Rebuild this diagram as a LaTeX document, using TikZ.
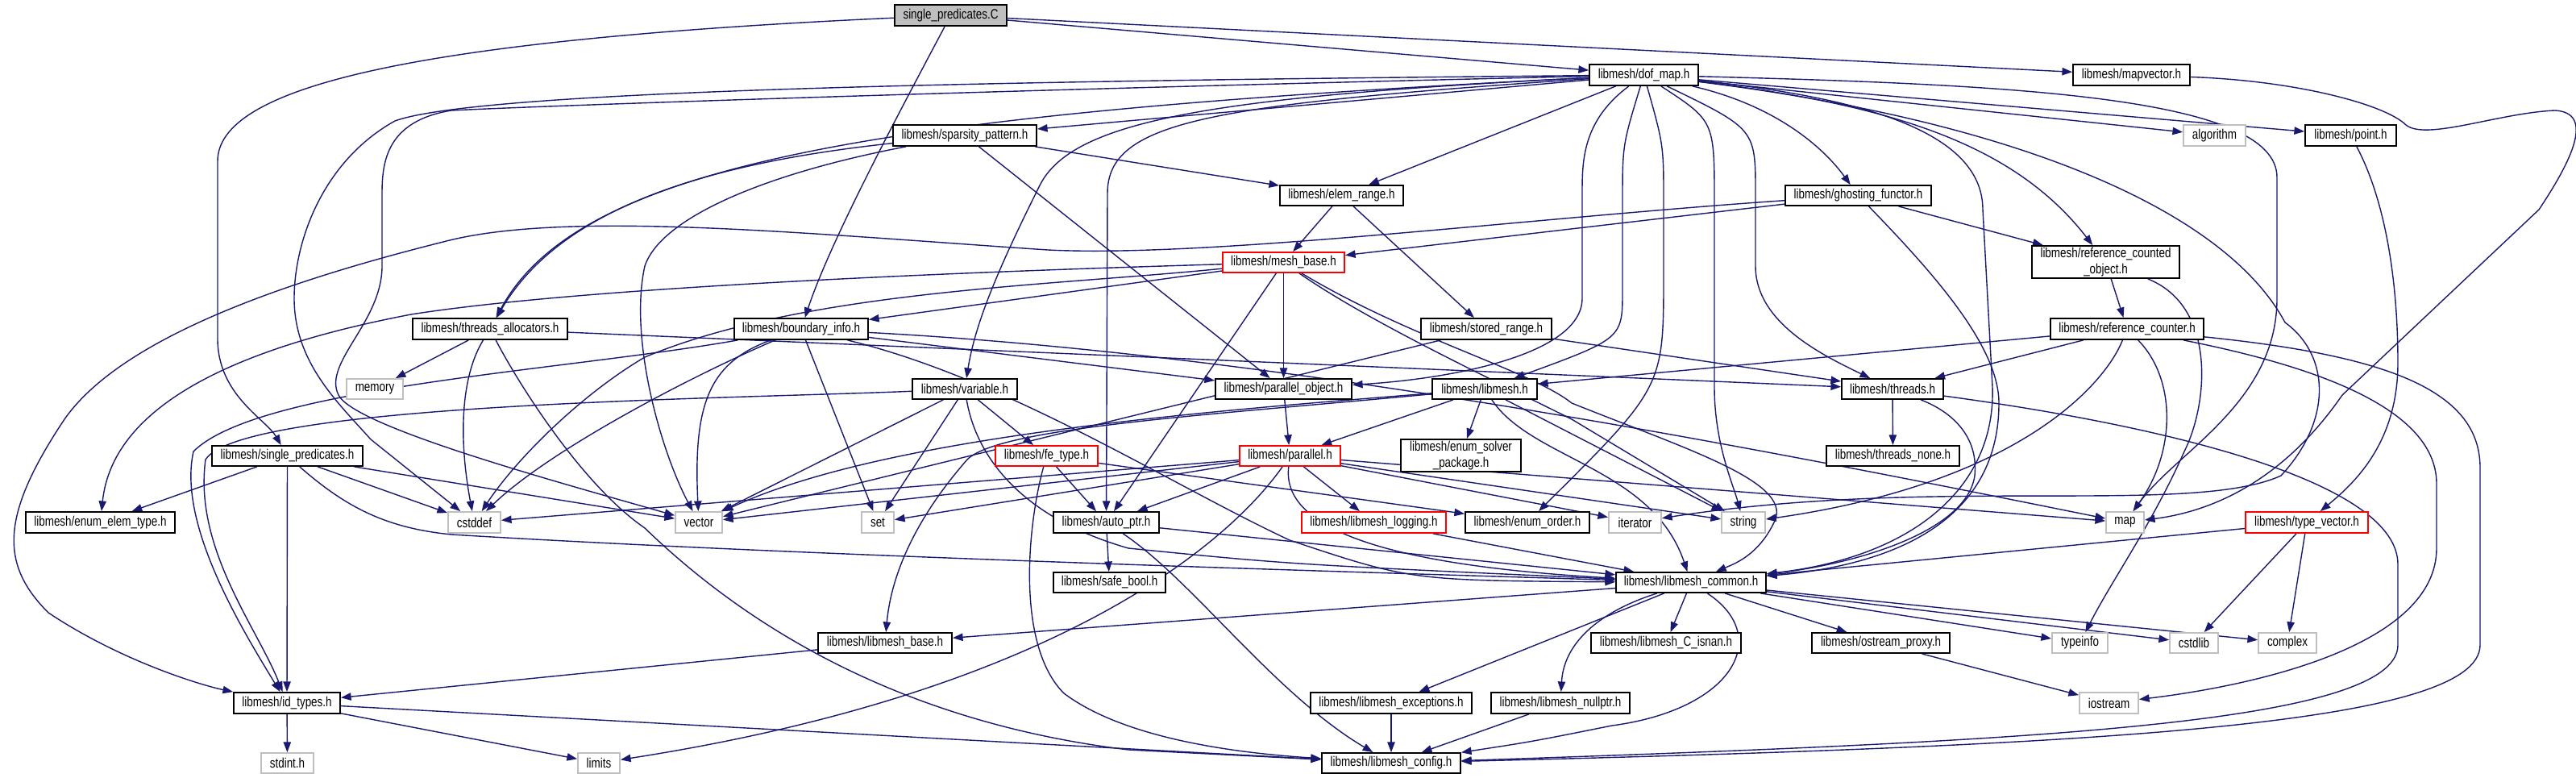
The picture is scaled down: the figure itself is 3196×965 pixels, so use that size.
\documentclass[tikz,border=0pt]{standalone}
\usepackage{fontspec}
\setmainfont{Liberation Sans}[FakeStretch=0.79]
\usetikzlibrary{arrows.meta}
\definecolor{eblue}{HTML}{191970}
\definecolor{gbord}{HTML}{BFBFBF}
\pgfdeclarelayer{bg}
\pgfsetlayers{bg,main}
\newcommand\mknode[7]{\node[#6,minimum width={(#4-#2)*0.3pt},minimum height={(#5-#3)*0.3pt}] (#1) at ({(#2+#4)/2},{(#3+#5)/2}) {#7};}
\tikzset{
  box/.style={draw=black,fill=white,line width=0.55pt,inner sep=0pt,font=\fontsize{5.1pt}{5.9pt}\selectfont,align=center},
  gbox/.style={box,draw=gbord},
  rbox/.style={box,draw=red},
  rootbox/.style={box,fill=gbord},
  e/.style={draw=eblue,line width=0.42pt,-{Triangle[length=3.8pt,width=2.8pt]}}
}
\begin{document}
\begin{tikzpicture}[x=0.3pt,y=-0.3pt]
\useasboundingbox (0,0) rectangle (3196,965);
\mknode{C}{1110}{6}{1249}{32}{rootbox}{single\_predicates.C}
\mknode{dof}{1972}{80}{2107}{106}{box}{libmesh/dof\_map.h}
\mknode{mapv}{2572}{80}{2717}{106}{box}{libmesh/mapvector.h}
\mknode{sp}{1108}{155}{1286}{181}{box}{libmesh/sparsity\_pattern.h}
\mknode{alg}{2709}{155}{2786}{181}{gbox}{algorithm}
\mknode{pt}{2860}{155}{2973}{181}{box}{libmesh/point.h}
\mknode{er}{1588}{230}{1741}{255}{box}{libmesh/elem\_range.h}
\mknode{gf}{2215}{230}{2396}{255}{box}{libmesh/ghosting\_functor.h}
\mknode{mb}{1517}{313}{1668}{338}{rbox}{libmesh/mesh\_base.h}
\mknode{rco}{2521}{305}{2704}{345}{box}{libmesh/reference\_counted\\\_object.h}
\mknode{ta}{512}{395}{704}{421}{box}{libmesh/threads\_allocators.h}
\mknode{bi}{911}{395}{1077}{421}{box}{libmesh/boundary\_info.h}
\mknode{sr}{1763}{395}{1925}{421}{box}{libmesh/stored\_range.h}
\mknode{rc}{2544}{395}{2734}{421}{box}{libmesh/reference\_counter.h}
\mknode{mem}{430}{470}{500}{495}{gbox}{memory}
\mknode{var}{1132}{470}{1262}{495}{box}{libmesh/variable.h}
\mknode{po}{1508}{470}{1677}{495}{box}{libmesh/parallel\_object.h}
\mknode{lm}{1777}{470}{1907}{495}{box}{libmesh/libmesh.h}
\mknode{th}{2285}{470}{2411}{495}{box}{libmesh/threads.h}
\mknode{sph}{263}{553}{450}{578}{box}{libmesh/single\_predicates.h}
\mknode{fe}{1235}{553}{1362}{578}{rbox}{libmesh/fe\_type.h}
\mknode{par}{1538}{553}{1663}{578}{rbox}{libmesh/parallel.h}
\mknode{esp}{1738}{545}{1887}{585}{box}{libmesh/enum\_solver\\\_package.h}
\mknode{thn}{2266}{553}{2431}{578}{box}{libmesh/threads\_none.h}
\mknode{eet}{32}{635}{217}{661}{box}{libmesh/enum\_elem\_type.h}
\mknode{cst}{556}{635}{621}{661}{gbox}{cstddef}
\mknode{vec}{838}{635}{896}{661}{gbox}{vector}
\mknode{set}{1069}{635}{1109}{661}{gbox}{set}
\mknode{ap}{1307}{635}{1438}{661}{box}{libmesh/auto\_ptr.h}
\mknode{log}{1615}{635}{1794}{661}{rbox}{libmesh/libmesh\_logging.h}
\mknode{eo}{1818}{635}{1972}{661}{box}{libmesh/enum\_order.h}
\mknode{it}{1996}{635}{2061}{661}{gbox}{iterator}
\mknode{str}{2136}{635}{2190}{661}{gbox}{string}
\mknode{map}{2613}{635}{2660}{661}{gbox}{map}
\mknode{tv}{2786}{635}{2938}{661}{rbox}{libmesh/type\_vector.h}
\mknode{sb}{1307}{710}{1446}{735}{box}{libmesh/safe\_bool.h}
\mknode{com}{2005}{710}{2191}{735}{box}{libmesh/libmesh\_common.h}
\mknode{lb}{1015}{785}{1181}{810}{box}{libmesh/libmesh\_base.h}
\mknode{isn}{1974}{785}{2160}{810}{box}{libmesh/libmesh\_C\_isnan.h}
\mknode{op}{2248}{785}{2419}{810}{box}{libmesh/ostream\_proxy.h}
\mknode{ti}{2546}{785}{2615}{810}{gbox}{typeinfo}
\mknode{cstl}{2692}{785}{2752}{810}{gbox}{cstdlib}
\mknode{cx}{2802}{785}{2874}{810}{gbox}{complex}
\mknode{id}{290}{859}{422}{885}{box}{libmesh/id\_types.h}
\mknode{exc}{1626}{859}{1826}{885}{box}{libmesh/libmesh\_exceptions.h}
\mknode{np}{1850}{859}{2022}{885}{box}{libmesh/libmesh\_nullptr.h}
\mknode{ios}{2580}{859}{2653}{885}{gbox}{iostream}
\mknode{std}{324}{934}{389}{959}{gbox}{stdint.h}
\mknode{lim}{717}{934}{769}{959}{gbox}{limits}
\mknode{cfg}{1640}{934}{1812}{959}{box}{libmesh/libmesh\_config.h}
\begin{pgfonlayer}{bg}
% single_predicates.C
\draw[e] (C) .. controls (500,50) and (270,110) .. (270,200) -- (270,420) .. controls (270,490) and (330,520) .. (sph);
\draw[e] (C) .. controls (1110,150) and (1030,300) .. (bi);
\draw[e] (C) -- (dof);
\draw[e] (C) -- (mapv);
% mapvector
\draw[e] (mapv) .. controls (2850,100) and (2960,130) .. (2985,155) .. controls (3010,175) and (3100,140) .. (3170,137) .. controls (3220,140) and (3190,200) .. (3150,260) -- (2906,490) .. controls (2830,600) and (2740,635) .. (map);
% dof_map
\draw[e] (dof) -- (sp);
\draw[e] (dof) .. controls (1100,140) and (720,200) .. (ta);
\draw[e] (dof) -- (er);
\draw[e] (dof) .. controls (2200,130) and (2260,180) .. (gf);
\draw[e] (dof) -- (alg);
\draw[e] (dof) -- (pt);
\draw[e] (dof) .. controls (2350,130) and (2500,180) .. (rco);
\draw[e] (dof) .. controls (1500,120) and (1330,150) .. (1290,230) .. controls (1240,330) and (1210,400) .. (var);
\draw[e] (dof) .. controls (1963,150) and (1963,200) .. (1963,240) -- (1963,370) .. controls (1963,440) and (1800,470) .. (po);
\draw[e] (dof) .. controls (2013,180) .. (2013,250) -- (2013,360) .. controls (2013,420) .. (lm);
\draw[e] (dof) .. controls (2064,180) .. (2064,250) -- (2064,340) .. controls (2064,480) .. (eo);
\draw[e] (dof) .. controls (2127,150) .. (2127,250) -- (2127,480) .. controls (2127,550) and (2150,600) .. (str);
\draw[e] (dof) .. controls (2178,160) .. (2178,240) -- (2178,330) .. controls (2178,400) and (2260,440) .. (th);
\draw[e] (dof) .. controls (1500,130) and (1374,150) .. (1374,240) -- (ap);
\draw[e] (dof) .. controls (2500,105) and (2825,120) .. (2825,220) -- (2825,370) .. controls (2825,500) and (2700,560) .. (map);
\draw[e] (dof) .. controls (2300,120) and (2460,160) .. (2460,260) -- (2472,480) .. controls (2476,600) and (2380,690) .. (com);
\draw[e] (dof) .. controls (2500,150) and (2760,260) .. (2835,400) .. controls (2890,440) and (2895,520) .. (2830,590) .. controls (2720,640) and (2400,590) .. (it);
\draw[e] (dof) .. controls (1300,110) and (700,130) .. (560,137) .. controls (480,150) and (474,200) .. (474,240) -- (474,330) .. controls (474,400) and (400,450) .. (420,490) .. controls (440,530) and (700,600) .. (vec);
\draw[e] (dof) .. controls (1300,100) and (600,110) .. (490,150) .. controls (400,200) and (365,300) .. (365,370) .. controls (365,450) and (420,500) .. (460,545) -- (cst);
% sparsity_pattern
\draw[e] (sp) .. controls (900,200) and (700,250) .. (ta);
\draw[e] (sp) -- (er);
\draw[e] (sp) -- (po);
\draw[e] (sp) .. controls (950,215) and (820,270) .. (800,330) .. controls (780,420) and (820,560) .. (vec);
% elem_range
\draw[e] (er) -- (mb);
\draw[e] (er) -- (sr);
% ghosting_functor
\draw[e] (gf) -- (mb);
\draw[e] (gf) -- (rco);
\draw[e] (gf) .. controls (2400,340) and (2480,430) .. (2480,500) .. controls (2480,640) and (2360,700) .. (com);
\draw[e] (gf) .. controls (1900,270) and (1500,320) .. (1300,310) .. controls (1000,290) and (700,260) .. (550,300) .. controls (350,350) and (150,420) .. (80,520) .. controls (0,640) and (0,700) .. (60,760) .. controls (150,820) and (250,850) .. (id);
% threads_allocators
\draw[e] (ta) -- (mem);
\draw[e] (ta) .. controls (570,470) and (570,550) .. (cst);
\draw[e] (ta) .. controls (640,470) and (720,600) .. (800,655) .. controls (950,800) and (1150,900) .. (1400,930) -- (cfg);
\draw[e] (ta) -- (th);
% mesh_base
\draw[e] (mb) .. controls (1100,340) and (700,360) .. (510,390) .. controls (300,430) and (140,500) .. (eet);
\draw[e] (mb) -- (bi);
\draw[e] (mb) -- (po);
\draw[e] (mb) -- (ap);
\draw[e] (mb) .. controls (1300,355) and (1000,360) .. (800,443) .. controls (720,490) and (640,570) .. (cst);
\draw[e] (mb) .. controls (1700,400) and (1850,470) .. (1950,520) -- (str);
\draw[e] (mb) .. controls (1750,420) and (1900,460) .. (1950,500) .. controls (2100,560) and (2230,600) .. (2200,650) .. controls (2180,690) and (2150,700) .. (com);
% boundary_info
\draw[e] (bi) -- (po);
\draw[e] (bi) .. controls (880,450) and (860,500) .. (vec);
\draw[e] (bi) -- (set);
\draw[e] (bi) .. controls (850,470) and (680,560) .. (cst);
\draw[e] (bi) .. controls (700,460) and (320,480) .. (240,560) .. controls (220,650) and (300,780) .. (id);
\draw[e] (bi) .. controls (1250,470) and (1450,600) .. (1600,670) .. controls (1750,720) .. (com);
\draw[e] (bi) .. controls (1600,440) and (2200,560) .. (map);
% reference counted / counter
\draw[e] (rco) -- (rc);
\draw[e] (rco) .. controls (2750,380) and (2740,500) .. (2710,560) .. controls (2670,650) and (2620,720) .. (ti);
\draw[e] (rc) -- (lm);
\draw[e] (rc) -- (th);
\draw[e] (rc) .. controls (2610,480) and (2500,600) .. (str);
\draw[e] (rc) .. controls (2700,470) and (2700,560) .. (map);
\draw[e] (rc) .. controls (2850,450) and (3023,500) .. (3023,600) -- (3023,680) .. controls (3023,800) and (2800,850) .. (ios);
\draw[e] (rc) .. controls (2950,440) and (3077,480) .. (3077,580) -- (3077,800) .. controls (3077,900) and (2600,925) .. (cfg);
% stored_range
\draw[e] (sr) -- (th);
\draw[e] (sr) -- (vec);
% variable
\draw[e] (var) -- (fe);
\draw[e] (var) -- (vec);
\draw[e] (var) -- (set);
\draw[e] (var) .. controls (1210,560) and (1260,640) .. (1400,680) .. controls (1600,700) .. (com);
\draw[e] (var) .. controls (900,495) and (300,500) .. (255,570) .. controls (240,680) and (320,780) .. (id);
% parallel_object, libmesh
\draw[e] (po) -- (par);
\draw[e] (lm) -- (par);
\draw[e] (lm) -- (esp);
\draw[e] (lm) .. controls (1900,570) and (2050,580) .. (com);
\draw[e] (lm) -- (str);
\draw[e] (lm) .. controls (1500,510) and (1100,540) .. (vec);
\draw[e] (lm) .. controls (1500,515) and (1240,530) .. (1200,570) .. controls (1130,650) and (1105,720) .. (lb);
% threads
\draw[e] (th) -- (thn);
\draw[e] (th) .. controls (2420,510) and (2455,540) .. (2450,590) .. controls (2440,660) and (2300,700) .. (com);
\draw[e] (th) .. controls (2700,530) and (2975,600) .. (2975,700) -- (2975,800) .. controls (2975,900) and (2500,920) .. (cfg);
% fe_type
\draw[e] (fe) -- (ap);
\draw[e] (fe) -- (eo);
\draw[e] (fe) .. controls (1275,650) and (1260,800) .. (1320,860) .. controls (1400,920) and (1550,935) .. (cfg);
% parallel
\draw[e] (par) -- (cst);
\draw[e] (par) -- (vec);
\draw[e] (par) -- (set);
\draw[e] (par) -- (ap);
\draw[e] (par) -- (log);
\draw[e] (par) -- (it);
\draw[e] (par) -- (str);
\draw[e] (par) -- (map);
\draw[e] (par) .. controls (1590,650) and (1700,700) .. (com);
\draw[e] (par) .. controls (1520,680) and (1300,860) .. (lim);
% single_predicates.h
\draw[e] (sph) -- (eet);
\draw[e] (sph) -- (id);
\draw[e] (sph) -- (cst);
\draw[e] (sph) -- (vec);
\draw[e] (sph) .. controls (430,630) and (480,655) .. (560,663) .. controls (1000,690) and (1700,710) .. (com);
% auto_ptr etc.
\draw[e] (ap) -- (sb);
\draw[e] (ap) -- (com);
\draw[e] (ap) .. controls (1480,720) and (1580,860) .. (cfg);
\draw[e] (log) -- (com);
\draw[e] (tv) -- (com);
\draw[e] (tv) -- (cstl);
\draw[e] (tv) -- (cx);
\draw[e] (pt) .. controls (2960,250) and (2975,350) .. (2975,450) .. controls (2975,550) and (2920,600) .. (tv);
% libmesh_common
\draw[e] (com) -- (lb);
\draw[e] (com) -- (exc);
\draw[e] (com) .. controls (1980,760) and (1940,800) .. (np);
\draw[e] (com) -- (isn);
\draw[e] (com) -- (op);
\draw[e] (com) .. controls (2200,790) and (2150,880) .. (2000,900) .. controls (1900,920) .. (cfg);
\draw[e] (com) -- (ti);
\draw[e] (com) -- (cstl);
\draw[e] (com) -- (cx);
% bottom
\draw[e] (lb) -- (id);
\draw[e] (id) -- (std);
\draw[e] (id) -- (lim);
\draw[e] (id) -- (cfg);
\draw[e] (exc) -- (cfg);
\draw[e] (np) -- (cfg);
\draw[e] (op) -- (ios);
\end{pgfonlayer}
\end{tikzpicture}
\end{document}
